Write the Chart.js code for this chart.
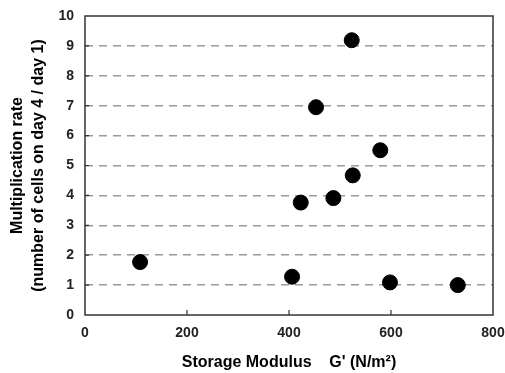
<!DOCTYPE html>
<html>
<head>
<meta charset="utf-8">
<script src="https://cdn.jsdelivr.net/npm/chart.js@4/dist/chart.umd.min.js"></script>
<style>
  html, body { margin: 0; padding: 0; background: #fff; }
  #wrap { width: 505px; height: 373px; }
</style>
</head>
<body>
<div id="wrap"><canvas id="chart" width="505" height="373"></canvas></div>
<script>
// values
const modulus = [108, 406, 423, 453, 487, 523, 525, 579, 598, 731];
const rate = [1.77, 1.28, 3.76, 6.95, 3.91, 9.19, 4.67, 5.51, 1.09, 1.00];

const xTitle = "Storage Modulus    G' (N/m\u00b2)";
const yTitle = ["Multiplication rate", "(number of cells on day 4 / day 1)"];

const points = modulus.map((x, i) => ({ x: x, y: rate[i] }));

// frame round the plot plus small inward tick marks
const framePlugin = {
    id: "frame",
    beforeDatasetsDraw(chart) {
        const { ctx, chartArea: a, scales } = chart;
        ctx.save();
        ctx.strokeStyle = "#333";
        ctx.lineWidth = 1.5;
        ctx.strokeRect(a.left, a.top, a.right - a.left, a.bottom - a.top);

        ctx.lineWidth = 1.2;
        ctx.beginPath();
        scales.x.ticks.forEach(t => {
            if (t.value <= 0 || t.value >= 800) return;
            const px = scales.x.getPixelForValue(t.value);
            ctx.moveTo(px, a.bottom);
            ctx.lineTo(px, a.bottom - 5);
        });
        scales.y.ticks.forEach(t => {
            if (t.value <= 0 || t.value >= 10) return;
            const py = scales.y.getPixelForValue(t.value);
            ctx.moveTo(a.left, py);
            ctx.lineTo(a.left + 4, py);
        });
        ctx.stroke();
        ctx.restore();
    }
};

const tickFont = { family: "Liberation Sans, Arial, sans-serif", size: 14, weight: "bold" };
const titleFont = { family: "Liberation Sans, Arial, sans-serif", size: 16, weight: "bold", lineHeight: 1.3 };

new Chart(document.getElementById("chart"), {
    type: "scatter",
    data: {
        datasets: [{
            data: points,
            backgroundColor: "#000",
            borderColor: "#000",
            pointRadius: 7.5,
            pointHoverRadius: 7.5
        }]
    },
    options: {
        responsive: false,
        animation: false,
        layout: { padding: { top: 16, right: 12, left: 0, bottom: 0 } },
        plugins: {
            legend: { display: false },
            tooltip: { enabled: false }
        },
        scales: {
            x: {
                type: "linear",
                min: 0,
                max: 800,
                ticks: { stepSize: 200, color: "#222", font: tickFont, padding: 10 },
                grid: { display: false, drawTicks: false },
                border: { display: false },
                title: {
                    display: true,
                    text: xTitle,
                    color: "#000",
                    font: titleFont,
                    padding: { top: 0, bottom: 0 }
                },
                afterFit(scale) {
                    scale.height = 58;
                    scale.paddingLeft = 0;
                    scale.paddingRight = 0;
                }
            },
            y: {
                min: 0,
                max: 10,
                ticks: { stepSize: 1, color: "#222", font: tickFont, padding: 11 },
                grid: {
                    drawTicks: false,
                    lineWidth: 1.5,
                    color: ctx => (ctx.tick && (ctx.tick.value === 0 || ctx.tick.value === 10)) ? "rgba(0,0,0,0)" : "#9a9a9a"
                },
                border: { display: false, dash: [8, 6] },
                title: {
                    display: true,
                    text: yTitle,
                    color: "#000",
                    font: titleFont,
                    padding: { top: 7.5, bottom: 0 }
                },
                afterFit(scale) {
                    scale.width = 85;
                    scale.paddingTop = 0;
                    scale.paddingBottom = 0;
                }
            }
        }
    },
    plugins: [framePlugin]
});
</script>
</body>
</html>
